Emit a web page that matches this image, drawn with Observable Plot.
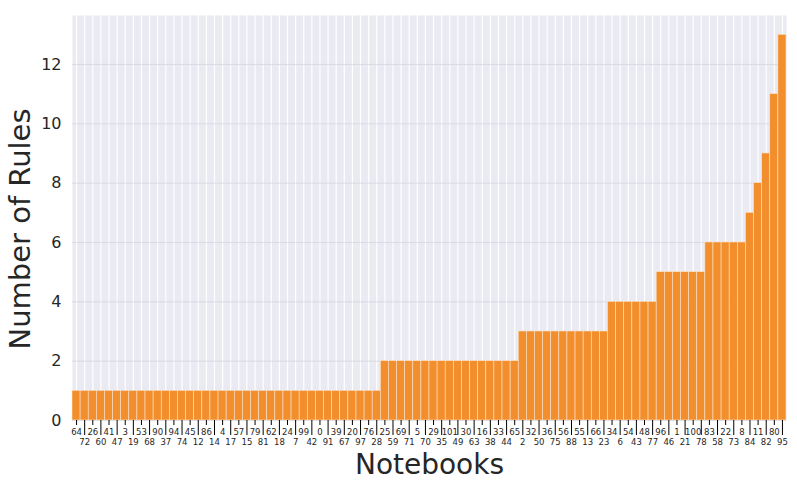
<!DOCTYPE html>
<html>
<head>
<meta charset="utf-8">
<script src="https://cdn.jsdelivr.net/npm/d3@7"></script>
<script src="https://cdn.jsdelivr.net/npm/@observablehq/plot@0.6"></script>
<style>
  html, body { margin: 0; padding: 0; background: #fff; }
  #chart svg { display: block; }
</style>
</head>
<body>
<div id="chart"></div>
<script>
const notebooks = ["64","72","26","60","41","47","3","19","53","68","90","37","94","74","45","12","86","14","4","17","57","15","79","81","62","18","24","7","99","42","0","91","39","67","20","97","76","28","25","59","69","71","5","70","29","35","101","49","30","63","16","38","33","44","65","2","32","50","36","75","56","88","55","13","66","23","34","6","54","43","48","77","96","46","1","21","100","78","83","58","22","73","8","84","11","82","80","95"];
const rules = [1,1,1,1,1,1,1,1,1,1,1,1,1,1,1,1,1,1,1,1,1,1,1,1,1,1,1,1,1,1,1,1,1,1,1,1,1,1,
  2,2,2,2,2,2,2,2,2,2,2,2,2,2,2,2,2,
  3,3,3,3,3,3,3,3,3,3,3,
  4,4,4,4,4,4,
  5,5,5,5,5,5,
  6,6,6,6,6,
  7,8,9,11,13];
const yTicks = [0,2,4,6,8,10,12];

const data = notebooks.map((n, i) => ({notebook: n, rules: rules[i]}));
const upperLabels = notebooks.filter((d, i) => i % 2 === 0);
const lowerLabels = notebooks.filter((d, i) => i % 2 === 1);

const chart = Plot.plot({
  width: 797,
  height: 488,
  marginLeft: 72,
  marginRight: 11,
  marginTop: 15,
  marginBottom: 68,
  style: {fontFamily: "DejaVu Sans", color: "#262626", background: "#fff"},
  x: {domain: notebooks, padding: 0, round: false, axis: null},
  y: {domain: [0, 13.65], axis: null},
  marks: [
    Plot.frame({fill: "#EAEAF2", stroke: null}),
    Plot.gridX({stroke: "#fff", strokeOpacity: 1, strokeWidth: 1.2}),
    Plot.gridY(yTicks, {stroke: "#d6d6de", strokeOpacity: 1, strokeWidth: 0.8}),
    Plot.barY(data, {x: "notebook", y: "rules", fill: "#f28e2b", stroke: "#fbe3cc", strokeWidth: 0.6}),
    Plot.axisX({ticks: upperLabels, tickSize: 5, tickPadding: 3, fontSize: 8.5, label: null, stroke: "#000"}),
    Plot.axisX({ticks: lowerLabels, tickSize: 15, tickPadding: 3, fontSize: 8.5, label: null, stroke: "#000"}),
    Plot.axisY({ticks: yTicks, tickSize: 0, tickPadding: 11, fontSize: 16, label: null}),
    Plot.text(["Number of Rules"], {frameAnchor: "left", dx: -52, dy: 11, rotate: -90, textAnchor: "middle", lineAnchor: "middle", fontSize: 29, fill: "#262626"}),
    Plot.text(["Notebooks"], {frameAnchor: "bottom", dy: 45, textAnchor: "middle", lineAnchor: "middle", fontSize: 28, fill: "#262626"})
  ]
});
document.getElementById("chart").appendChild(chart);
</script>
</body>
</html>
